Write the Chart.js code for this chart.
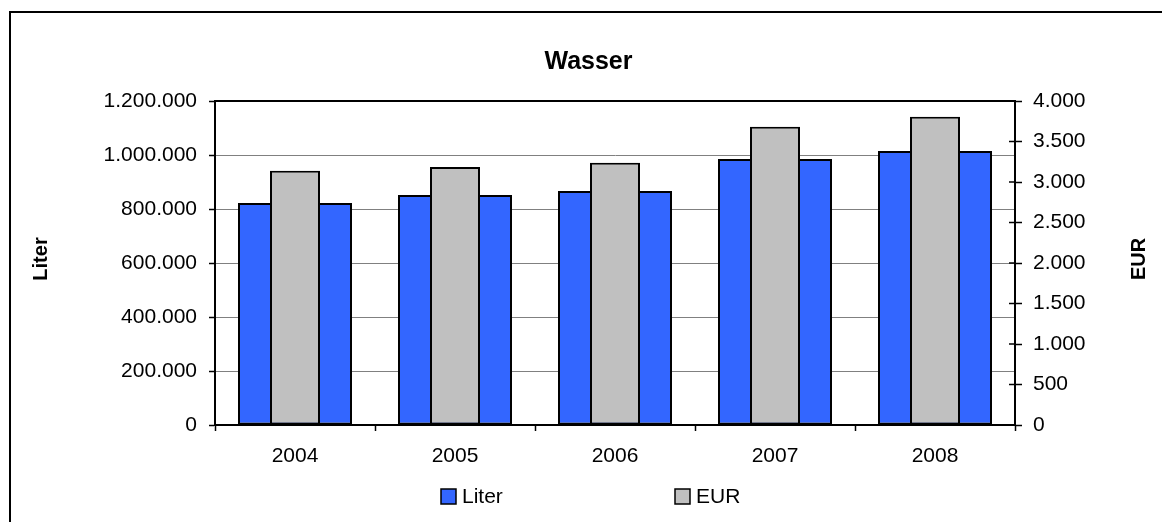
<!DOCTYPE html>
<html>
<head>
<meta charset="utf-8">
<script src="https://cdn.jsdelivr.net/npm/chart.js@4.4.1/dist/chart.umd.min.js"></script>
<style>
  body { margin: 0; background: #fff; }
</style>
</head>
<body>
<canvas id="chart" width="1162" height="522"></canvas>
<script>
const years = ["2004", "2005", "2006", "2007", "2008"];
const liter = [822000, 852000, 867000, 985000, 1015000];
const eur = [3140, 3185, 3238, 3683, 3806];

const FONT = "Arial, 'Liberation Sans', sans-serif";

// German style thousands separator
const fmt = (v) => String(v).replace(/\B(?=(\d{3})+(?!\d))/g, ".");

const extras = {
  id: "extras",
  afterDraw(chart) {
    const ctx = chart.ctx;
    const a = chart.chartArea;
    const right = chart.scales.y2;
    ctx.save();
    ctx.strokeStyle = "#000";
    ctx.lineWidth = 2;

    // outer frame, runs off the right and bottom edge
    ctx.beginPath();
    ctx.moveTo(10, 540);
    ctx.lineTo(10, 12);
    ctx.lineTo(1180, 12);
    ctx.stroke();

    // plot area border
    ctx.strokeRect(a.left, a.top, a.right - a.left, a.bottom - a.top);

    // right axis ticks cross the axis line
    ctx.lineWidth = 1.5;
    right.ticks.forEach((t) => {
      const y = right.getPixelForValue(t.value);
      ctx.beginPath();
      ctx.moveTo(a.right - 6, y);
      ctx.lineTo(a.right, y);
      ctx.stroke();
    });

    // axis titles, both read bottom to top
    ctx.fillStyle = "#000";
    ctx.font = "bold 20px " + FONT;
    ctx.textAlign = "center";
    ctx.textBaseline = "middle";
    const mid = (a.top + a.bottom) / 2 - 4;
    [["Liter", 41], ["EUR", 1139]].forEach(([txt, x]) => {
      ctx.save();
      ctx.translate(x, mid);
      ctx.rotate(-Math.PI / 2);
      ctx.fillText(txt, 0, 0);
      ctx.restore();
    });

    // legend
    const items = [441, 675];
    ctx.font = "21px " + FONT;
    ctx.textAlign = "left";
    chart.data.datasets.forEach((ds, i) => {
      const x = items[i];
      ctx.fillStyle = ds.backgroundColor;
      ctx.fillRect(x, 489, 15, 15);
      ctx.strokeRect(x, 489, 15, 15);
      ctx.fillStyle = "#000";
      ctx.fillText(ds.label, x + 21, 497);
    });
    ctx.restore();
  }
};

new Chart(document.getElementById("chart"), {
  type: "bar",
  data: {
    labels: years,
    datasets: [
      {
        label: "Liter",
        data: liter,
        yAxisID: "y",
        backgroundColor: "#3366FF",
        borderColor: "#000",
        borderWidth: 2,
        borderSkipped: false,
        grouped: false,
        categoryPercentage: 1,
        barPercentage: 0.7125,
        order: 1,
      },
      {
        label: "EUR",
        data: eur,
        yAxisID: "y2",
        backgroundColor: "#C0C0C0",
        borderColor: "#000",
        borderWidth: 2,
        borderSkipped: false,
        grouped: false,
        categoryPercentage: 1,
        barPercentage: 0.3125,
        order: 0,
      },
    ],
  },
  options: {
    responsive: false,
    animation: false,
    layout: { padding: { left: 15, right: 0, top: 0, bottom: 0 } },
    plugins: {
      legend: { display: false },
      tooltip: { enabled: false },
      title: {
        display: true,
        text: "Wasser",
        color: "#000",
        font: { family: FONT, size: 25, weight: "bold" },
        padding: { top: 47, bottom: 24 },
      },
    },
    scales: {
      x: {
        afterFit: (s) => { s.height = 97; },
        grid: { drawOnChartArea: false, tickLength: 6, tickColor: "#000", tickWidth: 1.5 },
        border: { color: "#000", width: 2 },
        ticks: { color: "#000", padding: 13, font: { family: FONT, size: 21 } },
      },
      y: {
        position: "left",
        min: 0,
        max: 1200000,
        afterFit: (s) => { s.width = 200; },
        grid: { color: "#808080", lineWidth: 1, tickLength: 6, tickColor: "#000", tickWidth: 1.5 },
        border: { color: "#000", width: 2 },
        ticks: {
          stepSize: 200000,
          color: "#000",
          padding: 12,
          font: { family: FONT, size: 21 },
          callback: (v) => fmt(v),
        },
      },
      y2: {
        position: "right",
        min: 0,
        max: 4000,
        afterFit: (s) => { s.width = 147; },
        grid: { drawOnChartArea: false, tickLength: 7, tickColor: "#000", tickWidth: 1.5 },
        border: { color: "#000", width: 2 },
        ticks: {
          stepSize: 500,
          color: "#000",
          padding: 11,
          font: { family: FONT, size: 21 },
          callback: (v) => fmt(v),
        },
      },
    },
  },
  plugins: [extras],
});
</script>
</body>
</html>
